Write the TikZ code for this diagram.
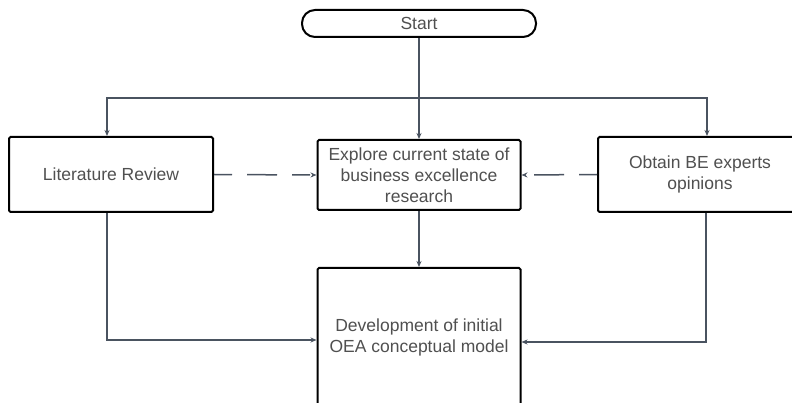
\documentclass[tikz,border=0pt]{standalone}
\usepackage{fontspec}
\setmainfont{Liberation Sans}
\usetikzlibrary{arrows.meta}
\definecolor{linkc}{HTML}{4A5360}
\definecolor{txtc}{HTML}{505050}
\begin{document}
\begin{tikzpicture}[x=1pt,y=-1pt,
  every node/.style={font=\fontsize{17.5}{21}\selectfont, text=txtc, align=center, inner sep=0pt},
  boxnode/.style={draw=black, line width=2pt, rounded corners=1.5pt, fill=white},
  startnode/.style={boxnode, rounded corners=13pt, minimum width=234pt, minimum height=27pt},
  stepbox/.style={boxnode, minimum width=204pt, minimum height=75pt},
  conn/.style={draw=linkc, line width=1.5pt},
  arr/.style={conn, -{Stealth[length=6pt,width=5pt]}},
  dasharr/.style={arr, dash pattern=on 18pt off 15pt on 30pt off 15pt}]
\useasboundingbox (0,0) rectangle (792,403);

\node[startnode] (start) at (419,23.5) {Start};
\node[stepbox] (lit) at (111,174.5) {Literature Review};
\node[stepbox, minimum width=203pt, minimum height=70pt] (expl) at (419,175)
  {Explore current state of\\business excellence\\research};
\node[stepbox] (obt) at (700,174.5) {Obtain BE experts\\opinions};
\node[stepbox, minimum width=203pt, minimum height=138pt] (dev) at (419,337)
  {Development of initial\\OEA conceptual model};

\coordinate (split) at (419,98);

% branching from the start
\draw[arr] (start) -- (expl);
\draw[arr] (split) -| ([xshift=-4pt]lit.north);
\draw[arr] (split) -| ([xshift=7pt]obt.north);

% dashed feeds into the central step
\draw[dasharr] (lit.east) -- (expl.west);
\draw[dasharr] (obt.west) -- (expl.east);

% convergence on the model
\draw[arr] (expl) -- (dev);
\draw[arr] ([xshift=-4pt]lit.south) |- ([yshift=-3pt]dev.west);
\draw[arr] ([xshift=6pt]obt.south) |- ([yshift=-5pt]dev.east);
\end{tikzpicture}
\end{document}
